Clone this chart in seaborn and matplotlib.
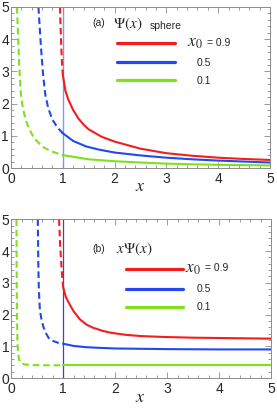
import pandas as pd
import matplotlib
matplotlib.use("Agg")
import matplotlib.pyplot as plt
from matplotlib.ticker import MultipleLocator
import seaborn as sns

# ---- data ----
x0_labels = ["0.9", "0.5", "0.1"]
colors = ["#f31d1d", "#2348f0", "#7fe11c"]

# panel (a): Psi(x), dashed for x < 1, solid for x >= 1
a_red_dash_x = [0.945, 0.955, 0.965, 0.975, 0.985, 1.0]
a_red_dash_y = [5.0, 4.5, 4.0, 3.6, 3.25, 2.9]
a_red_x = [1.0, 1.05, 1.1, 1.2, 1.3, 1.4, 1.5, 1.75, 2.0, 2.5, 3.0, 3.5, 4.0, 4.5, 5.0]
a_red_y = [2.9, 2.4, 2.15, 1.8, 1.54, 1.35, 1.2, 0.97, 0.82, 0.6, 0.46, 0.38, 0.32, 0.28, 0.25]

a_blue_dash_x = [0.53, 0.545, 0.565, 0.59, 0.62, 0.66, 0.72, 0.8, 0.9, 1.0]
a_blue_dash_y = [5.0, 4.6, 4.1, 3.5, 2.9, 2.3, 1.85, 1.5, 1.25, 1.08]
a_blue_x = [1.0, 1.2, 1.45, 1.7, 2.0, 2.5, 3.0, 3.5, 4.0, 4.5, 5.0]
a_blue_y = [1.08, 0.84, 0.67, 0.57, 0.48, 0.39, 0.32, 0.27, 0.23, 0.2, 0.17]

a_green_dash_x = [0.115, 0.125, 0.135, 0.16, 0.19, 0.22, 0.26, 0.3, 0.35, 0.42, 0.48, 0.56, 0.64, 0.74, 0.83, 0.92, 1.0]
a_green_dash_y = [5.0, 4.6, 4.18, 3.15, 2.3, 1.95, 1.65, 1.42, 1.22, 1.0, 0.87, 0.74, 0.63, 0.55, 0.49, 0.44, 0.4]
a_green_x = [1.0, 1.5, 2.0, 2.5, 3.0, 3.5, 4.0, 4.5, 5.0]
a_green_y = [0.4, 0.27, 0.21, 0.17, 0.135, 0.115, 0.1, 0.09, 0.08]

# panel (b): x*Psi(x)
b_red_dash_x = [0.92, 0.93, 0.94, 0.955, 0.97, 0.985, 1.0]
b_red_dash_y = [5.0, 4.6, 4.2, 3.8, 3.4, 3.1, 2.85]
b_red_x = [1.0, 1.05, 1.13, 1.2, 1.32, 1.45, 1.58, 1.75, 1.9, 2.2, 2.5, 3.0, 3.5, 4.0, 4.5, 5.0]
b_red_y = [2.85, 2.55, 2.3, 2.1, 1.85, 1.68, 1.58, 1.49, 1.43, 1.36, 1.32, 1.29, 1.27, 1.26, 1.25, 1.24]

b_blue_dash_x = [0.51, 0.515, 0.52, 0.53, 0.55, 0.58, 0.62, 0.67, 0.72, 0.8, 0.9, 1.0]
b_blue_dash_y = [5.0, 4.3, 3.6, 2.8, 2.15, 1.85, 1.6, 1.4, 1.26, 1.17, 1.11, 1.08]
b_blue_x = [1.0, 1.2, 1.45, 1.7, 2.0, 2.5, 3.0, 4.0, 5.0]
b_blue_y = [1.08, 1.01, 0.97, 0.95, 0.93, 0.92, 0.91, 0.9, 0.9]

b_green_dash_x = [0.1, 0.103, 0.106, 0.11, 0.115, 0.12, 0.13, 0.145, 0.165, 0.2, 0.25, 0.35, 0.5, 0.7, 1.0]
b_green_dash_y = [5.0, 3.5, 2.6, 1.9, 1.4, 1.1, 0.8, 0.62, 0.52, 0.46, 0.43, 0.41, 0.405, 0.4, 0.4]
b_green_x = [1.0, 2.0, 3.0, 4.0, 5.0]
b_green_y = [0.4, 0.4, 0.4, 0.4, 0.4]

xticks = [0, 1, 2, 3, 4, 5]
yticks = [0, 1, 2, 3, 4, 5]

sns.set_style("ticks")
plt.rcParams["font.family"] = ["Liberation Sans", "DejaVu Sans"]
plt.rcParams["mathtext.fontset"] = "stix"

fig = plt.figure(figsize=(2.77, 4.09), dpi=100)
ax_a = fig.add_axes([11 / 277, 1 - 168 / 409, 259 / 277, 161 / 409])
ax_b = fig.add_axes([11.3 / 277, 1 - 378 / 409, 259.7 / 277, 158.7 / 409])


def curve(ax, xs, ys, color, dashed):
    df = pd.DataFrame({"x": xs, "y": ys})
    sns.lineplot(data=df, x="x", y="y", ax=ax, color=color, lw=1.5,
                 estimator=None, sort=False,
                 linestyle=(0, (3.2, 1.8)) if dashed else "-")


def style_axes(ax):
    ax.set_xlim(0, 5)
    ax.set_ylim(0, 5)
    ax.set_xticks(xticks)
    ax.set_yticks(yticks)
    ax.xaxis.set_minor_locator(MultipleLocator(0.2))
    ax.yaxis.set_minor_locator(MultipleLocator(0.2))
    ax.tick_params(which="both", direction="in", top=True, right=True,
                   color="#8c8c8c", width=0.6)
    ax.tick_params(which="major", length=4, labelsize=10)
    ax.tick_params(axis="y", which="major", pad=1.5)
    ax.tick_params(axis="x", which="major", pad=3)
    ax.tick_params(which="minor", length=2)
    ax.tick_params(top=True, right=True, labeltop=False, labelright=False)
    for sp in ax.spines.values():
        sp.set_color("#8c8c8c")
        sp.set_linewidth(0.7)
    ax.set_xlabel("")
    ax.set_ylabel("")


# ---- panel (a) ----
ax_a.axvline(1, color="#6e8cff", lw=1.0, alpha=0.9)
curve(ax_a, a_red_dash_x, a_red_dash_y, colors[0], True)
curve(ax_a, a_red_x, a_red_y, colors[0], False)
curve(ax_a, a_blue_dash_x, a_blue_dash_y, colors[1], True)
curve(ax_a, a_blue_x, a_blue_y, colors[1], False)
curve(ax_a, a_green_dash_x, a_green_dash_y, colors[2], True)
curve(ax_a, a_green_x, a_green_y, colors[2], False)
style_axes(ax_a)

ax_a.text(0.313, 0.90, "(a)", transform=ax_a.transAxes, fontsize=7.5, va="center")
ax_a.text(0.394, 0.894, r"$\Psi(x)$", transform=ax_a.transAxes, fontsize=11, va="center")
ax_a.text(0.535, 0.882, "sphere", transform=ax_a.transAxes, fontsize=7.5, va="center")
key_a_y = [0.778, 0.657, 0.547]
for c, ky in zip(colors, key_a_y):
    ax_a.plot([0.409, 0.633], [ky, ky], transform=ax_a.transAxes, color=c, lw=2.3)
ax_a.text(0.68, 0.772, r"$x_0$", transform=ax_a.transAxes, fontsize=12.5, va="center")
ax_a.text(0.758, 0.778, "= " + x0_labels[0], transform=ax_a.transAxes, fontsize=7.5, va="center")
ax_a.text(0.718, 0.652, x0_labels[1], transform=ax_a.transAxes, fontsize=7.5, va="center")
ax_a.text(0.718, 0.54, x0_labels[2], transform=ax_a.transAxes, fontsize=7.5, va="center")
ax_a.text(0.498, -0.112, r"$x$", transform=ax_a.transAxes, fontsize=13,
          ha="center", va="center")

# ---- panel (b) ----
ax_b.axvline(1, color="#3347d6", lw=0.9)
curve(ax_b, b_red_dash_x, b_red_dash_y, colors[0], True)
curve(ax_b, b_red_x, b_red_y, colors[0], False)
curve(ax_b, b_blue_dash_x, b_blue_dash_y, colors[1], True)
curve(ax_b, b_blue_x, b_blue_y, colors[1], False)
curve(ax_b, b_green_dash_x, b_green_dash_y, colors[2], True)
curve(ax_b, b_green_x, b_green_y, colors[2], False)
style_axes(ax_b)

ax_b.text(0.311, 0.811, "(b)", transform=ax_b.transAxes, fontsize=7.5, va="center")
ax_b.text(0.403, 0.813, r"$x\Psi(x)$", transform=ax_b.transAxes, fontsize=11, va="center")
key_b_y = [0.685, 0.559, 0.449]
for c, ky in zip(colors, key_b_y):
    ax_b.plot([0.442, 0.661], [ky, ky], transform=ax_b.transAxes, color=c, lw=2.3)
ax_b.text(0.669, 0.682, r"$x_0$", transform=ax_b.transAxes, fontsize=12.5, va="center")
ax_b.text(0.745, 0.691, "= " + x0_labels[0], transform=ax_b.transAxes, fontsize=7.5, va="center")
ax_b.text(0.715, 0.561, x0_labels[1], transform=ax_b.transAxes, fontsize=7.5, va="center")
ax_b.text(0.715, 0.447, x0_labels[2], transform=ax_b.transAxes, fontsize=7.5, va="center")
ax_b.text(0.496, -0.12, r"$x$", transform=ax_b.transAxes, fontsize=13,
          ha="center", va="center")

fig.savefig("out.png", dpi=100)
